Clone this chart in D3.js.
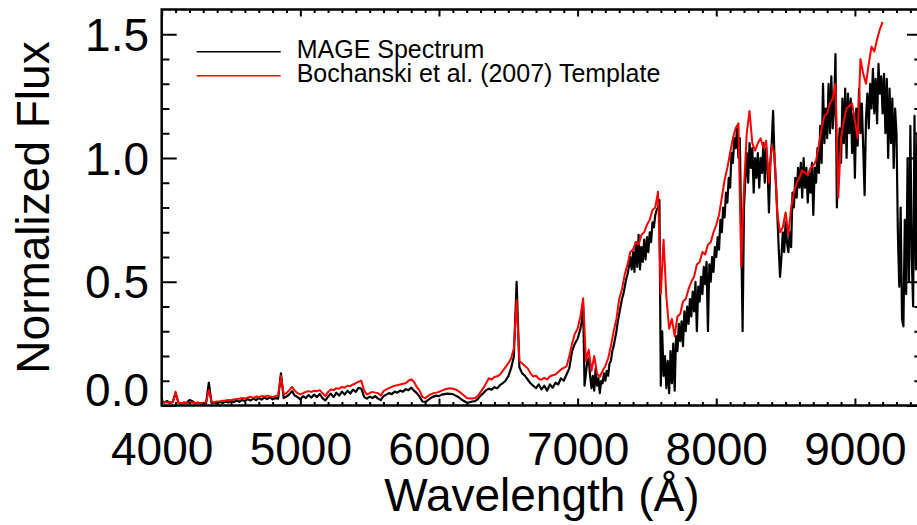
<!DOCTYPE html>
<html>
<head>
<meta charset="utf-8">
<script src="https://cdn.jsdelivr.net/npm/d3@7"></script>
<style>
  body { margin: 0; background: #fff; }
  text { font-family: "Liberation Sans", Arial, Helvetica, sans-serif; }
</style>
</head>
<body>
<svg id="chart" width="917" height="525"></svg>
<script>
// Bochanski et al. (2007) template, 20 A grid from 4000 A
const templateStart = 4000, templateStep = 20;
const templateFlux = [
  0.015, 0.014, 0.012, 0.013, 0.012, 0.056, 0.012, 0.010, 0.010, 0.011, // 4000
  0.010, 0.012, 0.011, 0.010, 0.010, 0.011, 0.012, 0.063, 0.013, 0.014, // 4200
  0.016, 0.017, 0.019, 0.020, 0.022, 0.021, 0.024, 0.026, 0.027, 0.030, // 4400
  0.028, 0.032, 0.035, 0.031, 0.036, 0.034, 0.038, 0.036, 0.040, 0.037, // 4600
  0.034, 0.038, 0.042, 0.120, 0.045, 0.050, 0.062, 0.075, 0.060, 0.050, // 4800
  0.045, 0.050, 0.055, 0.058, 0.055, 0.060, 0.058, 0.062, 0.050, 0.038, // 5000
  0.055, 0.065, 0.062, 0.070, 0.068, 0.075, 0.072, 0.080, 0.078, 0.085, // 5200
  0.090, 0.096, 0.100, 0.060, 0.045, 0.050, 0.055, 0.052, 0.050, 0.040, // 5400
  0.058, 0.065, 0.070, 0.075, 0.080, 0.082, 0.085, 0.088, 0.090, 0.100, // 5600
  0.106, 0.095, 0.075, 0.060, 0.035, 0.030, 0.038, 0.045, 0.050, 0.052, // 5800
  0.055, 0.060, 0.065, 0.068, 0.070, 0.068, 0.065, 0.058, 0.050, 0.040, // 6000
  0.030, 0.028, 0.028, 0.030, 0.038, 0.055, 0.070, 0.090, 0.110, 0.105, // 6200
  0.115, 0.118, 0.125, 0.140, 0.155, 0.170, 0.190, 0.230, 0.426, 0.180, // 6400
  0.170, 0.160, 0.150, 0.130, 0.117, 0.120, 0.108, 0.104, 0.112, 0.105, // 6600
  0.118, 0.122, 0.125, 0.135, 0.145, 0.152, 0.158, 0.200, 0.250, 0.290, // 6800
  0.310, 0.360, 0.433, 0.180, 0.225, 0.140, 0.200, 0.130, 0.116, 0.140, // 7000
  0.160, 0.190, 0.240, 0.300, 0.350, 0.430, 0.470, 0.530, 0.570, 0.620, // 7200
  0.630, 0.660, 0.650, 0.690, 0.700, 0.730, 0.750, 0.790, 0.800, 0.864, // 7400
  0.450, 0.670, 0.440, 0.310, 0.350, 0.280, 0.360, 0.370, 0.420, 0.430, // 7600
  0.470, 0.500, 0.520, 0.570, 0.580, 0.620, 0.610, 0.650, 0.660, 0.700, // 7800
  0.730, 0.770, 0.840, 0.910, 0.960, 1.020, 1.080, 1.120, 1.140, 0.560, // 8000
  0.880, 1.100, 1.190, 1.060, 1.030, 1.060, 1.080, 1.040, 1.070, 0.900, // 8200
  1.050, 1.020, 0.780, 0.700, 0.720, 0.780, 0.690, 0.800, 0.860, 0.900, // 8400
  0.920, 0.950, 0.940, 0.930, 0.960, 0.970, 0.990, 1.050, 1.120, 1.170, // 8600
  1.180, 1.220, 1.240, 1.300, 0.840, 1.080, 1.150, 1.200, 1.210, 1.220, // 8800
  1.150, 1.080, 1.400, 1.340, 1.300, 1.380, 1.450, 1.430, 1.480, 1.520, // 9000
  1.550                                                                // 9200
];

// MAGE spectrum, blue part on a 20 A grid from 4000 A
const mageBlueStart = 4000, mageBlueStep = 20;
const mageBlue = [
  0.020, 0.012, 0.018, 0.010, 0.015, 0.050, 0.012, 0.008, 0.012, 0.010, // 4000
  0.022, 0.018, 0.008, 0.012, 0.006, 0.010, 0.008, 0.092, 0.010, 0.012, // 4200
  0.008, 0.014, 0.010, 0.016, 0.012, 0.018, 0.014, 0.020, 0.015, 0.022, // 4400
  0.018, 0.026, 0.020, 0.028, 0.022, 0.030, 0.024, 0.032, 0.026, 0.033, // 4600
  0.025, 0.030, 0.028, 0.130, 0.030, 0.036, 0.045, 0.058, 0.040, 0.034, // 4800
  0.025, 0.038, 0.030, 0.042, 0.032, 0.044, 0.034, 0.046, 0.030, 0.020, // 5000
  0.036, 0.048, 0.034, 0.052, 0.040, 0.056, 0.044, 0.060, 0.048, 0.064, // 5200
  0.055, 0.072, 0.068, 0.035, 0.028, 0.036, 0.030, 0.038, 0.028, 0.022, // 5400
  0.038, 0.044, 0.050, 0.046, 0.056, 0.052, 0.060, 0.056, 0.066, 0.062, // 5600
  0.072, 0.060, 0.050, 0.036, 0.016, 0.014, 0.022, 0.030, 0.036, 0.040, // 5800
  0.038, 0.044, 0.046, 0.048, 0.047, 0.046, 0.040, 0.034, 0.026, 0.018, // 6000
  0.012, 0.013, 0.016, 0.018, 0.026, 0.040, 0.050, 0.062, 0.068, 0.064, // 6200
  0.074, 0.070, 0.082, 0.090, 0.100, 0.118, 0.150, 0.197, 0.500, 0.155, // 6400
  0.130, 0.120, 0.105, 0.090, 0.080, 0.070, 0.085, 0.065, 0.080, 0.060, // 6600
  0.085, 0.072, 0.092, 0.085, 0.110, 0.100, 0.125, 0.150, 0.220, 0.250  // 6800
];

// MAGE spectrum, red part on a 10 A grid from 7000 A
const mageRedStart = 7000, mageRedStep = 10;
const mageRed = [
  0.27, 0.29, 0.31, 0.34, 0.40, 0.08, 0.13, 0.18, 0.19, 0.12, // 7000
  0.07, 0.12, 0.06, 0.15, 0.08, 0.11, 0.05, 0.10, 0.09, 0.13, // 7100
  0.10, 0.14, 0.12, 0.17, 0.18, 0.22, 0.24, 0.27, 0.30, 0.34, // 7200
  0.37, 0.40, 0.43, 0.45, 0.48, 0.51, 0.53, 0.56, 0.60, 0.55, // 7300
  0.62, 0.54, 0.66, 0.56, 0.69, 0.55, 0.64, 0.58, 0.67, 0.59, // 7400
  0.68, 0.62, 0.70, 0.66, 0.74, 0.72, 0.77, 0.79, 0.80, 0.83, // 7500
  0.08, 0.30, 0.12, 0.20, 0.07, 0.18, 0.05, 0.22, 0.09, 0.25, // 7600
  0.06, 0.28, 0.22, 0.33, 0.26, 0.34, 0.24, 0.38, 0.30, 0.40, // 7700
  0.33, 0.43, 0.36, 0.46, 0.38, 0.50, 0.30, 0.48, 0.42, 0.52, // 7800
  0.45, 0.56, 0.49, 0.58, 0.30, 0.57, 0.50, 0.60, 0.54, 0.64, // 7900
  0.60, 0.68, 0.63, 0.75, 0.70, 0.80, 0.76, 0.86, 0.82, 0.92, // 8000
  0.88, 1.02, 0.98, 1.08, 1.04, 1.12, 1.00, 1.08, 0.70, 0.30, // 8100
  0.80, 0.92, 1.02, 0.90, 1.06, 0.96, 1.04, 0.86, 1.00, 0.92, // 8200
  1.02, 0.88, 1.00, 0.94, 1.06, 0.90, 1.04, 0.96, 0.78, 0.98, // 8300
  1.06, 1.19, 1.00, 0.90, 0.78, 0.64, 0.52, 0.60, 0.70, 0.62, // 8400
  0.74, 0.66, 0.62, 0.70, 0.64, 0.86, 0.80, 0.92, 0.84, 0.96, // 8500
  0.88, 0.98, 0.84, 1.00, 0.88, 0.96, 0.82, 0.94, 0.86, 0.98, // 8600
  0.77, 0.96, 0.90, 1.04, 0.94, 1.13, 0.98, 1.30, 1.06, 1.20, // 8700
  1.08, 1.30, 1.10, 1.33, 1.12, 1.20, 1.42, 0.80, 1.00, 1.12, // 8800
  0.98, 1.24, 1.06, 1.28, 1.00, 1.26, 1.10, 1.24, 1.02, 1.18, // 8900
  0.92, 1.20, 1.05, 1.28, 1.10, 1.22, 1.04, 0.85, 1.16, 1.26, // 9000
  1.12, 1.30, 1.20, 1.36, 1.18, 1.32, 1.14, 1.38, 1.26, 1.33, // 9100
  1.18, 1.34, 1.10, 1.32, 1.00, 1.28, 1.06, 1.24, 0.96, 1.20, // 9200
  1.10, 0.70, 0.48, 0.80, 0.35, 0.32, 0.75, 0.45, 1.00, 0.50, // 9300
  1.13, 0.60, 0.40, 1.17, 0.55, 1.10, 0.40, 1.00, 0.50, 0.90  // 9400
];

const xMajorTicks = [4000, 5000, 6000, 7000, 8000, 9000];
const yMajorTicks = [0.0, 0.5, 1.0, 1.5];
const seriesNames = ["MAGE Spectrum", "Bochanski et al. (2007) Template"];
const seriesColors = ["#000000", "#ff0000"];

const svg = d3.select("#chart");
const plot = { left: 161.7, right: 922, top: 9.5, bottom: 405.5 };

const x = d3.scaleLinear().domain([4000, 9484]).range([plot.left, plot.right]);
const y = d3.scaleLinear().domain([0, 1.6]).range([plot.bottom, plot.top]);

const xMinorTicks = d3.range(4000, 9481, 100).filter(d => d % 1000 !== 0);
const yMinorTicks = d3.range(0, 16).map(i => i / 10).filter(d => Math.round(d * 10) % 5 !== 0);

const template = templateFlux.map((f, i) => ({ w: templateStart + i * templateStep, f }));
const mage = mageBlue.map((f, i) => ({ w: mageBlueStart + i * mageBlueStep, f }))
  .concat(mageRed.map((f, i) => ({ w: mageRedStart + i * mageRedStep, f })));

svg.append("defs").append("clipPath").attr("id", "plotclip")
  .append("rect")
  .attr("x", plot.left).attr("y", plot.top)
  .attr("width", plot.right - plot.left).attr("height", plot.bottom - plot.top);

const line = d3.line().x(d => x(d.w)).y(d => y(d.f));

const lines = svg.append("g").attr("clip-path", "url(#plotclip)");
lines.append("path").datum(mage)
  .attr("d", line).attr("fill", "none")
  .attr("stroke", seriesColors[0]).attr("stroke-width", 2.2)
  .attr("stroke-linejoin", "round");
lines.append("path").datum(template)
  .attr("d", line).attr("fill", "none")
  .attr("stroke", seriesColors[1]).attr("stroke-width", 2)
  .attr("stroke-linejoin", "round");

// axes: ticks point inward, like IDL
function tickAxis(axis, transform) {
  const g = svg.append("g").attr("transform", transform).call(axis);
  g.select(".domain").remove();
  g.selectAll(".tick line").attr("stroke", "#000").attr("stroke-width", 2);
  return g;
}

tickAxis(d3.axisBottom(x).tickValues(xMinorTicks).tickSize(-3.5).tickFormat(""), `translate(0,${plot.bottom})`);
const xAxisG = tickAxis(d3.axisBottom(x).tickValues(xMajorTicks).tickSize(-7).tickPadding(27).tickFormat(d3.format("d")),
  `translate(0,${plot.bottom})`);
xAxisG.attr("font-size", 46).attr("font-family", null);
xAxisG.selectAll("text").attr("fill", "#000");

tickAxis(d3.axisTop(x).tickValues(xMinorTicks).tickSize(-3.5).tickFormat(""), `translate(0,${plot.top})`);
tickAxis(d3.axisTop(x).tickValues(xMajorTicks).tickSize(-7).tickFormat(""), `translate(0,${plot.top})`);

tickAxis(d3.axisLeft(y).tickValues(yMinorTicks).tickSize(-7.7).tickFormat(""), `translate(${plot.left},0)`);
tickAxis(d3.axisLeft(y).tickValues(yMajorTicks).tickSize(-15).tickFormat(""), `translate(${plot.left},0)`);
tickAxis(d3.axisRight(y).tickValues(yMinorTicks).tickSize(-7.7).tickFormat(""), `translate(${plot.right},0)`);
tickAxis(d3.axisRight(y).tickValues(yMajorTicks).tickSize(-15).tickFormat(""), `translate(${plot.right},0)`);

svg.append("g").selectAll("text").data(yMajorTicks).join("text")
  .attr("x", 149)
  .attr("y", d => Math.min(y(d) + 16.5, plot.bottom + 0.5))
  .attr("text-anchor", "end")
  .attr("font-size", 46)
  .text(d3.format(".1f"));

// frame
svg.append("rect")
  .attr("x", plot.left).attr("y", plot.top)
  .attr("width", plot.right - plot.left).attr("height", plot.bottom - plot.top)
  .attr("fill", "none").attr("stroke", "#000").attr("stroke-width", 2.5);

// axis titles
svg.append("text")
  .attr("x", (plot.left + plot.right) / 2).attr("y", 511)
  .attr("text-anchor", "middle").attr("font-size", 46)
  .text("Wavelength (Å)");

svg.append("text")
  .attr("transform", `translate(49,${(plot.top + plot.bottom) / 2}) rotate(-90)`)
  .attr("text-anchor", "middle").attr("font-size", 46)
  .text("Normalized Flux");

// legend
const legend = svg.append("g").attr("transform", "translate(196.7,51.7)");
const items = legend.selectAll("g").data(seriesNames).join("g")
  .attr("transform", (d, i) => `translate(0,${i * 24})`);
items.append("line")
  .attr("x1", 0).attr("x2", 84).attr("y1", 0).attr("y2", 0)
  .attr("stroke", (d, i) => seriesColors[i]).attr("stroke-width", 1.6);
items.append("text")
  .attr("x", 100).attr("y", 5.8)
  .attr("font-size", 25)
  .text(d => d);
</script>
</body>
</html>
